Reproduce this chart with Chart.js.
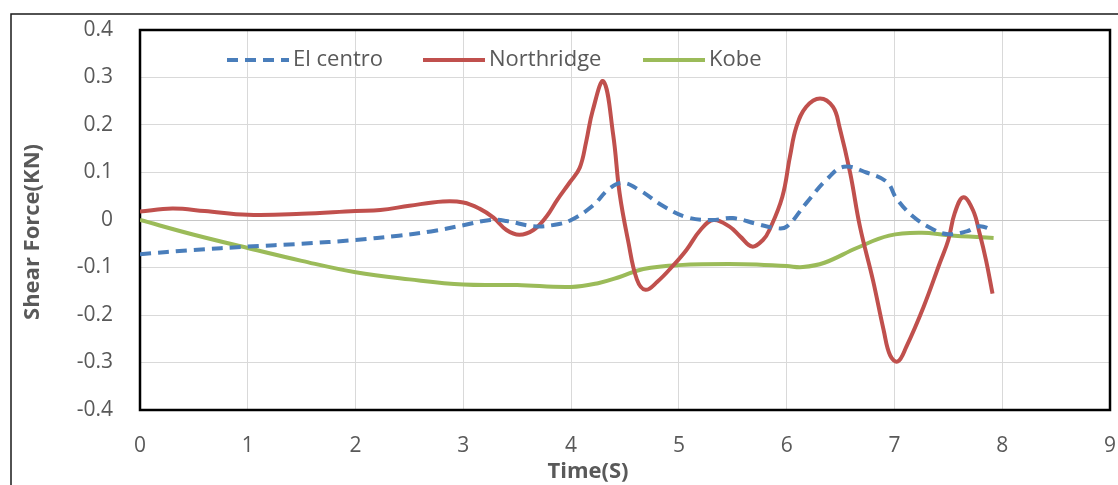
<!DOCTYPE html>
<html>
<head>
<meta charset="utf-8">
<script src="https://cdn.jsdelivr.net/npm/chart.js@4/dist/chart.umd.min.js"></script>
<style>
  html, body { margin: 0; padding: 0; background: #ffffff; }
  #wrap { width: 1118px; height: 485px; }
</style>
</head>
<body>
<div id="wrap"><canvas id="c" width="1118" height="485"></canvas></div>
<script>
// Shear force time histories (time in s, force in kN)
const elCentroTime  = [0, 0.5, 1.0, 1.5, 2.0, 2.4, 2.7, 3.0, 3.25, 3.4, 3.65, 3.85, 4.0, 4.2, 4.35, 4.48, 4.64, 4.85, 5.07, 5.3, 5.5, 5.72, 5.9, 6.0, 6.18, 6.37, 6.53, 6.74, 6.93, 7.02, 7.17, 7.36, 7.5, 7.67, 7.79, 7.9];
const elCentroForce = [-0.072, -0.063, -0.056, -0.05, -0.042, -0.033, -0.024, -0.011, 0.0, -0.002, -0.013, -0.01, 0.0, 0.03, 0.065, 0.078, 0.062, 0.03, 0.006, 0.0, 0.004, -0.008, -0.017, -0.014, 0.035, 0.085, 0.112, 0.1, 0.08, 0.045, 0.008, -0.02, -0.03, -0.024, -0.013, -0.02];

const northridgeTime  = [0, 0.3, 0.6, 1.0, 1.5, 2.0, 2.23, 2.5, 2.81, 3.0, 3.15, 3.28, 3.4, 3.52, 3.65, 3.77, 3.87, 3.99, 4.08, 4.14, 4.2, 4.3, 4.39, 4.45, 4.53, 4.61, 4.69, 4.8, 4.95, 5.07, 5.2, 5.32, 5.47, 5.57, 5.68, 5.78, 5.84, 5.96, 6.03, 6.09, 6.18, 6.31, 6.43, 6.49, 6.59, 6.68, 6.8, 6.9, 6.96, 7.03, 7.11, 7.27, 7.42, 7.5, 7.56, 7.64, 7.73, 7.79, 7.85, 7.91];
const northridgeForce = [0.018, 0.024, 0.019, 0.011, 0.013, 0.019, 0.021, 0.03, 0.039, 0.037, 0.024, 0.005, -0.021, -0.031, -0.021, 0.007, 0.042, 0.08, 0.11, 0.165, 0.23, 0.292, 0.18, 0.056, -0.045, -0.125, -0.147, -0.13, -0.095, -0.063, -0.021, 0.0, -0.014, -0.035, -0.056, -0.042, -0.021, 0.049, 0.133, 0.196, 0.238, 0.256, 0.238, 0.196, 0.098, -0.014, -0.126, -0.232, -0.285, -0.298, -0.267, -0.183, -0.091, -0.042, 0.015, 0.048, 0.02, -0.028, -0.085, -0.155];

const kobeTime  = [0, 0.5, 1.0, 1.5, 2.0, 2.5, 3.0, 3.5, 4.0, 4.25, 4.45, 4.67, 5.0, 5.6, 6.0, 6.15, 6.35, 6.65, 6.95, 7.25, 7.5, 7.92];
const kobeForce = [0.0, -0.031, -0.059, -0.086, -0.11, -0.125, -0.136, -0.137, -0.141, -0.133, -0.12, -0.103, -0.095, -0.093, -0.097, -0.099, -0.09, -0.059, -0.033, -0.027, -0.032, -0.038];

const seriesNames = ['El centro', 'Northridge', 'Kobe'];
const xTickValues = [0, 1, 2, 3, 4, 5, 6, 7, 8, 9];
const yTickValues = [-0.4, -0.3, -0.2, -0.1, 0, 0.1, 0.2, 0.3, 0.4];
const yTickLabels = ['-0.4', '-0.3', '-0.2', '-0.1', '0', '0.1', '0.2', '0.3', '0.4'];
const xTitle = 'Time(S)';
const yTitle = 'Shear Force(KN)';

const toPoints = (xs, ys) => xs.map((x, i) => ({ x: x, y: ys[i] }));

const FONT = '"Open Sans", "DejaVu Sans", sans-serif';
const TEXT = '#595959';

// Outer frame, plot box, axis titles and the in-plot legend
const decorations = {
  id: 'decorations',
  beforeDraw(chart) {
    const ctx = chart.ctx;
    ctx.save();
    ctx.fillStyle = '#ffffff';
    ctx.fillRect(0, 0, chart.width, chart.height);
    ctx.strokeStyle = '#1a1a1a';
    ctx.lineWidth = 1.5;
    ctx.beginPath();
    ctx.moveTo(11, chart.height);
    ctx.lineTo(11, 14);
    ctx.lineTo(chart.width, 14);
    ctx.stroke();
    ctx.restore();
  },
  beforeDatasetsDraw(chart) {
    const ctx = chart.ctx;
    const a = chart.chartArea;
    ctx.save();
    // zero line slightly stronger than the grid
    const y0 = chart.scales.y.getPixelForValue(0);
    ctx.strokeStyle = '#c6c6c6';
    ctx.lineWidth = 1;
    ctx.beginPath();
    ctx.moveTo(a.left, Math.round(y0) + 0.5);
    ctx.lineTo(a.right, Math.round(y0) + 0.5);
    ctx.stroke();
    ctx.strokeStyle = '#000000';
    ctx.lineWidth = 2.5;
    ctx.strokeRect(a.left, a.top, a.right - a.left, a.bottom - a.top);
    ctx.restore();
  },
  afterDraw(chart) {
    const ctx = chart.ctx;
    ctx.save();
    ctx.fillStyle = TEXT;
    // x title
    ctx.font = 'bold 22px ' + FONT;
    ctx.textAlign = 'center';
    ctx.textBaseline = 'middle';
    ctx.fillText(xTitle, 588, 472);
    // y title
    ctx.translate(33, 232);
    ctx.rotate(-Math.PI / 2);
    ctx.fillText(yTitle, 0, 0);
    ctx.restore();

    // legend
    ctx.save();
    const itemX = [227, 423, 643];
    const ly = 60;
    ctx.font = '22px ' + FONT;
    ctx.textBaseline = 'middle';
    ctx.textAlign = 'left';
    chart.data.datasets.forEach((ds, i) => {
      const x0 = itemX[i];
      ctx.strokeStyle = ds.borderColor;
      ctx.lineWidth = ds.borderWidth;
      ctx.setLineDash(ds.borderDash || []);
      ctx.lineCap = 'butt';
      ctx.beginPath();
      ctx.moveTo(x0, ly);
      ctx.lineTo(x0 + 62, ly);
      ctx.stroke();
      ctx.setLineDash([]);
      ctx.fillStyle = TEXT;
      ctx.fillText(ds.label, x0 + 66, ly);
    });
    ctx.restore();
  }
};

const noEdgePadding = (s) => {
  s.paddingLeft = 0;
  s.paddingRight = 0;
  s.paddingTop = 0;
  s.paddingBottom = 0;
};

new Chart(document.getElementById('c'), {
  type: 'line',
  data: {
    datasets: [
      {
        label: seriesNames[0],
        data: toPoints(elCentroTime, elCentroForce),
        borderColor: '#4a7ebb',
        borderWidth: 4,
        borderDash: [11, 7],
        pointRadius: 0,
        tension: 0.4,
        fill: false
      },
      {
        label: seriesNames[1],
        data: toPoints(northridgeTime, northridgeForce),
        borderColor: '#c0504d',
        borderWidth: 4,
        pointRadius: 0,
        tension: 0.4,
        fill: false
      },
      {
        label: seriesNames[2],
        data: toPoints(kobeTime, kobeForce),
        borderColor: '#9bbb59',
        borderWidth: 4,
        pointRadius: 0,
        tension: 0.4,
        fill: false
      }
    ]
  },
  options: {
    responsive: false,
    animation: false,
    devicePixelRatio: 1,
    layout: { padding: { left: 0, top: 30, right: 8, bottom: 0 } },
    plugins: {
      legend: { display: false },
      tooltip: { enabled: false }
    },
    scales: {
      x: {
        type: 'linear',
        min: 0,
        max: 9,
        afterBuildTicks: (s) => { s.ticks = xTickValues.map(v => ({ value: v })); },
        afterFit: (s) => { s.height = 75; noEdgePadding(s); },
        grid: { color: '#d9d9d9', lineWidth: 1, drawTicks: false },
        border: { display: false },
        ticks: {
          color: TEXT,
          font: { family: FONT, size: 21 },
          padding: 23,
          maxRotation: 0,
          callback: (v) => String(v)
        }
      },
      y: {
        type: 'linear',
        min: -0.4,
        max: 0.4,
        afterBuildTicks: (s) => { s.ticks = yTickValues.map(v => ({ value: v })); },
        afterFit: (s) => { s.width = 140; noEdgePadding(s); },
        grid: { color: '#d9d9d9', lineWidth: 1, drawTicks: false },
        border: { display: false },
        ticks: {
          color: TEXT,
          font: { family: FONT, size: 21 },
          padding: 27,
          callback: (v) => {
            const i = yTickValues.findIndex(t => Math.abs(t - v) < 1e-9);
            return i >= 0 ? yTickLabels[i] : '';
          }
        }
      }
    }
  },
  plugins: [decorations]
});
</script>
</body>
</html>
